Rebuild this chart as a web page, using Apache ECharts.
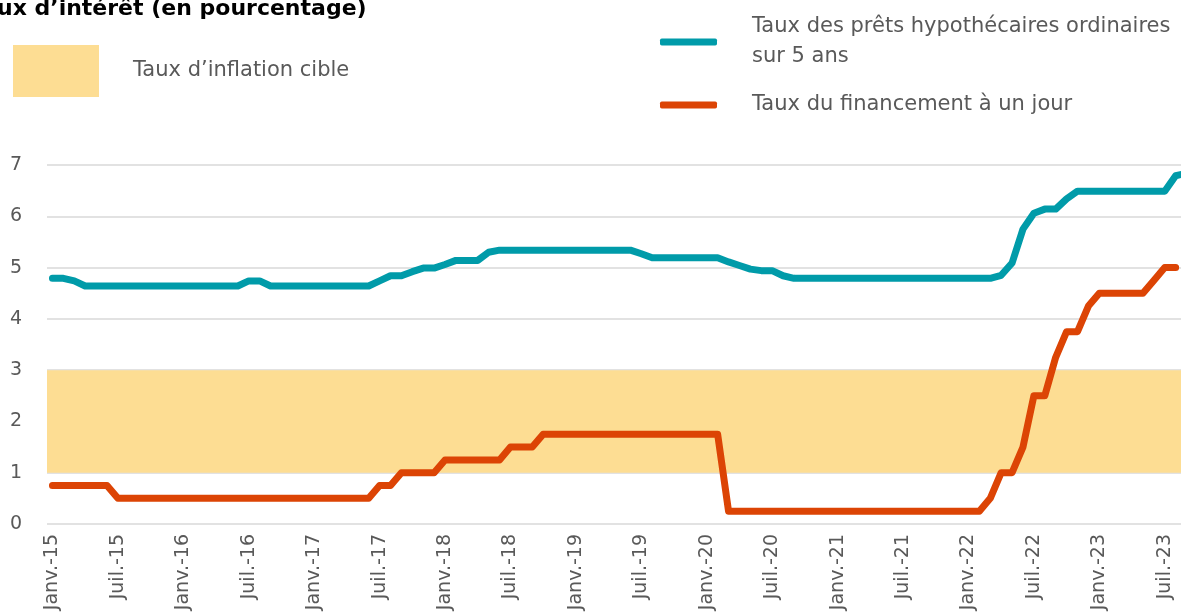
<!DOCTYPE html>
<html>
<head>
<meta charset="utf-8">
<script src="https://cdn.jsdelivr.net/npm/echarts@6/dist/echarts.min.js"></script>
<style>
  html, body { margin: 0; padding: 0; background: #fff; }
  #main { width: 1181px; height: 616px; }
</style>
</head>
<body>
<div id="main"></div>
<script>
// month labels, Janv.-15 .. Sept.-23
var monthNames = ['Janv.', 'Févr.', 'Mars', 'Avr.', 'Mai', 'Juin', 'Juil.', 'Août', 'Sept.', 'Oct.', 'Nov.', 'Déc.'];
var years = ['15', '16', '17', '18', '19', '20', '21', '22', '23'];
var lastMonth = 8; // Sept. of the last year

var categories = [];
years.forEach(function (y, yi) {
    monthNames.forEach(function (m, mi) {
        if (yi === years.length - 1 && mi > lastMonth) return;
        categories.push(m + '-' + y);
    });
});

// 5-year conventional mortgage rate (%)
var mortgage5y = [
    4.79, 4.79, 4.74, 4.64, 4.64, 4.64, 4.64, 4.64, 4.64, 4.64, 4.64, 4.64,
    4.64, 4.64, 4.64, 4.64, 4.64, 4.64, 4.74, 4.74, 4.64, 4.64, 4.64, 4.64,
    4.64, 4.64, 4.64, 4.64, 4.64, 4.64, 4.74, 4.84, 4.84, 4.92, 4.99, 4.99,
    5.06, 5.14, 5.14, 5.14, 5.30, 5.34, 5.34, 5.34, 5.34, 5.34, 5.34, 5.34,
    5.34, 5.34, 5.34, 5.34, 5.34, 5.34, 5.27, 5.19, 5.19, 5.19, 5.19, 5.19,
    5.19, 5.19, 5.11, 5.04, 4.97, 4.94, 4.94, 4.84, 4.79, 4.79, 4.79, 4.79,
    4.79, 4.79, 4.79, 4.79, 4.79, 4.79, 4.79, 4.79, 4.79, 4.79, 4.79, 4.79,
    4.79, 4.79, 4.79, 4.85, 5.09, 5.75, 6.06, 6.14, 6.14, 6.34, 6.49, 6.49,
    6.49, 6.49, 6.49, 6.49, 6.49, 6.49, 6.49, 6.79, 6.84
];

// overnight rate (%)
var overnight = [
    0.75, 0.75, 0.75, 0.75, 0.75, 0.75, 0.5, 0.5, 0.5, 0.5, 0.5, 0.5,
    0.5, 0.5, 0.5, 0.5, 0.5, 0.5, 0.5, 0.5, 0.5, 0.5, 0.5, 0.5,
    0.5, 0.5, 0.5, 0.5, 0.5, 0.5, 0.75, 0.75, 1, 1, 1, 1,
    1.25, 1.25, 1.25, 1.25, 1.25, 1.25, 1.5, 1.5, 1.5, 1.75, 1.75, 1.75,
    1.75, 1.75, 1.75, 1.75, 1.75, 1.75, 1.75, 1.75, 1.75, 1.75, 1.75, 1.75,
    1.75, 1.75, 0.25, 0.25, 0.25, 0.25, 0.25, 0.25, 0.25, 0.25, 0.25, 0.25,
    0.25, 0.25, 0.25, 0.25, 0.25, 0.25, 0.25, 0.25, 0.25, 0.25, 0.25, 0.25,
    0.25, 0.25, 0.5, 1, 1, 1.5, 2.5, 2.5, 3.25, 3.75, 3.75, 4.25,
    4.5, 4.5, 4.5, 4.5, 4.5, 4.75, 5, 5, null
];

var targetRange = [1, 3];
var yTicks = [0, 7, 1]; // min, max, interval

var names = {
    target: 'Taux d\u2019inflation cible',
    mortgage: 'Taux des prêts hypothécaires ordinaires\nsur 5 ans',
    overnight: 'Taux du financement à un jour'
};

var teal = '#009ba9';
var orange = '#dc4405';
var sand = '#fddd93';
var grey = '#595959';
var font = 'DejaVu Sans';

var myChart = echarts.init(document.getElementById('main'));

var option = {
    animation: false,
    textStyle: { fontFamily: font },
    graphic: [{
        type: 'text',
        left: -30,
        top: -2,
        style: {
            text: 'Taux d\u2019intérêt (en pourcentage)',
            font: 'bold 22px "DejaVu Sans"',
            fill: '#000'
        }
    }],
    legend: [
        {
            left: 13,
            top: 45,
            padding: 0,
            itemWidth: 86,
            itemHeight: 52,
            data: [{ name: names.target, icon: 'rect', itemStyle: { color: sand } }],
            textStyle: { color: grey, fontSize: 21, fontFamily: font, padding: [11, 0, 0, 29] }
        },
        {
            left: 660,
            top: 12,
            padding: 0,
            orient: 'vertical',
            itemWidth: 57,
            itemHeight: 7,
            itemGap: 18,
            icon: 'roundRect',
            data: [names.mortgage, names.overnight],
            textStyle: { color: grey, fontSize: 21, fontFamily: font, lineHeight: 30, padding: [0, 0, 0, 30] }
        }
    ],
    grid: {
        left: 47,
        top: 165,
        width: 1145,
        height: 359,
        outerBoundsMode: 'none'
    },
    xAxis: {
        type: 'category',
        data: categories,
        boundaryGap: true,
        axisLine: { show: false },
        axisTick: { show: false },
        axisLabel: {
            interval: 5,
            rotate: 90,
            margin: 10,
            color: grey,
            fontSize: 19,
            fontFamily: font
        }
    },
    yAxis: {
        type: 'value',
        min: yTicks[0],
        max: yTicks[1],
        interval: yTicks[2],
        axisLabel: { color: grey, fontSize: 19, fontFamily: font, margin: 25 },
        splitLine: { lineStyle: { color: '#d9d9d9', width: 1.5 } }
    },
    series: [
        {
            name: names.target,
            type: 'line',
            data: [],
            z: 1,
            itemStyle: { color: sand },
            markArea: {
                silent: true,
                itemStyle: { color: sand, opacity: 1 },
                data: [[{ yAxis: targetRange[0] }, { yAxis: targetRange[1] }]]
            }
        },
        {
            name: names.mortgage,
            type: 'line',
            data: mortgage5y,
            z: 3,
            symbol: 'none',
            color: teal,
            lineStyle: { width: 7, cap: 'round', join: 'round' }
        },
        {
            name: names.overnight,
            type: 'line',
            data: overnight,
            z: 3,
            symbol: 'none',
            color: orange,
            lineStyle: { width: 7, cap: 'round', join: 'round' }
        }
    ]
};

option && myChart.setOption(option);
</script>
</body>
</html>
